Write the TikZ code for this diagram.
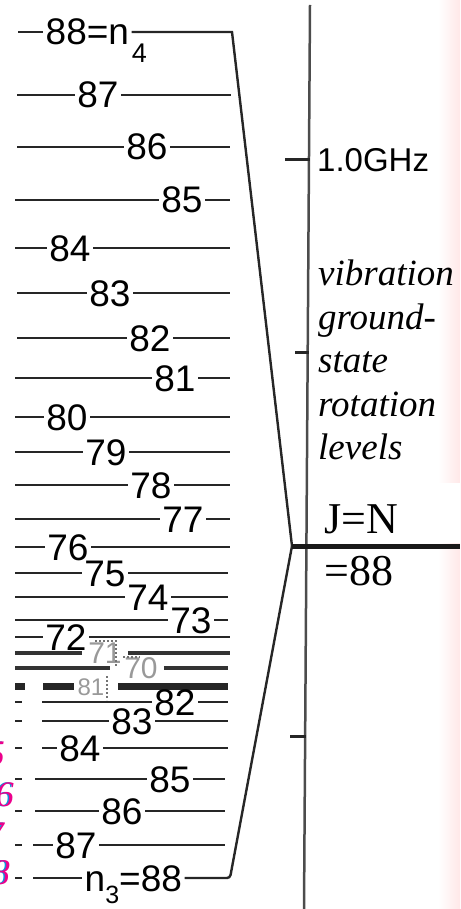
\documentclass[tikz,border=0pt]{standalone}
\usepackage{fontspec}
\setmainfont{Liberation Serif}
\setsansfont{Liberation Sans}
\usetikzlibrary{positioning,calc}

\begin{document}
\begin{tikzpicture}[
    x=1pt, y=-1pt,
    lvl/.style={line width=2.4pt, draw=black!85},
    dense/.style={line width=4.5pt, draw=black!80},
    block/.style={line width=7pt, draw=black!85},
    tick/.style={line width=3pt, draw=black!85},
    num/.style={font=\sffamily\fontsize{37}{40}\selectfont, inner xsep=2.5pt,
      inner ysep=0pt, text height=26pt, text depth=0pt},
    sub/.style={font=\sffamily\fontsize{27}{28}\selectfont, inner sep=0pt,
      text height=19pt, text depth=0pt},
    faint/.style={num, font=\sffamily\fontsize{30}{32}\selectfont, text=black!40,
      text height=21pt, inner xsep=6pt},
    remnant/.style={line width=1.5pt, draw=black!55, dash pattern=on 2pt off 2pt},
    scan/.style={font=\itshape\fontsize{36}{36}\selectfont, inner sep=0pt,
      anchor=east, text height=25pt, text depth=0pt},
    caption/.style={font=\itshape\fontsize{37}{43.5}\selectfont, align=left, inner sep=0pt}
  ]
  \useasboundingbox (0,0) rectangle (460,909);
  % scan tint at the right edge
  \shade[left color=white, right color=red!9] (438,0) rectangle (460,909);
  \fill[white] (312,483) rectangle (460,543);

  % frequency axis
  \coordinate (axtop) at (310,5);
  \coordinate (axbot) at (304,909);
  \draw[line width=2.5pt, draw=black!70] (axtop) -- (axbot);
  \draw[tick] (285,160) -- (310,160);
  \draw[tick] (295,352) -- (309,352);
  \draw[tick] (290,736) -- (306,736);
  \node[font=\sffamily\fontsize{33}{35}\selectfont, anchor=west, inner sep=0pt]
    (ghz) at (317,160) {1.0GHz};
  \node[caption, anchor=north west] (desc) at (318,260)
    {vibration\\ground-\\state\\rotation\\levels};
  \node[font=\fontsize{44}{46}\selectfont, anchor=base west, inner sep=0pt]
    (jn) at (324,533) {J=N};
  \node[font=\fontsize{44}{46}\selectfont, anchor=base west, inner sep=0pt]
    (eq) at (324,585) {=88};

  % upper ladder, n_4 = 88 down to 72
  \coordinate (topc) at (232,32);
  \coordinate (meet) at (292,546);
  \coordinate (edge) at (460,546);
  \node[num, anchor=west] (l88a) at (43,32) {88=n};
  \node[sub, anchor=north west, yshift=2pt] (s4) at (l88a.south east) {4};
  \draw[lvl] (18,32) -- (l88a.west);
  \draw[lvl] (l88a.east) -- (topc) -- (meet);
  \node[num] (l87) at (98,95) {87};
  \draw[lvl] (17,95) -- (l87.west); \draw[lvl] (l87.east) -- (231,95);
  \node[num] (l86) at (147,147) {86};
  \draw[lvl] (17,147) -- (l86.west); \draw[lvl] (l86.east) -- (230,147);
  \node[num] (l85) at (182,200) {85};
  \draw[lvl] (15,200) -- (l85.west); \draw[lvl] (l85.east) -- (230,200);
  \node[num] (l84) at (70,248) {84};
  \draw[lvl] (15,248) -- (l84.west); \draw[lvl] (l84.east) -- (230,248);
  \node[num] (l83) at (110,293) {83};
  \draw[lvl] (17,293) -- (l83.west); \draw[lvl] (l83.east) -- (230,293);
  \node[num] (l82) at (150,338) {82};
  \draw[lvl] (17,338) -- (l82.west); \draw[lvl] (l82.east) -- (230,338);
  \node[num] (l81) at (175,378) {81};
  \draw[lvl] (15,378) -- (l81.west); \draw[lvl] (l81.east) -- (230,378);
  \node[num] (l80) at (67,417) {80};
  \draw[lvl] (15,417) -- (l80.west); \draw[lvl] (l80.east) -- (230,417);
  \node[num] (l79) at (106,452) {79};
  \draw[lvl] (15,452) -- (l79.west); \draw[lvl] (l79.east) -- (230,452);
  \node[num] (l78) at (151,485) {78};
  \draw[lvl] (15,485) -- (l78.west); \draw[lvl] (l78.east) -- (230,485);
  \node[num] (l77) at (183,519) {77};
  \draw[lvl] (15,519) -- (l77.west); \draw[lvl] (l77.east) -- (230,519);
  \node[num] (l76) at (68,547) {76};
  \draw[lvl] (15,547) -- (l76.west); \draw[lvl] (l76.east) -- (230,547);
  \node[num] (l75) at (105,573) {75};
  \draw[lvl] (15,573) -- (l75.west); \draw[lvl] (l75.east) -- (228,573);
  \node[num] (l74) at (148,597) {74};
  \draw[lvl] (15,597) -- (l74.west); \draw[lvl] (l74.east) -- (228,597);
  \node[num] (l73) at (191,620) {73};
  \draw[lvl] (15,620) -- (l73.west); \draw[lvl] (l73.east) -- (228,620);
  \node[num] (l72) at (66,637) {72};
  \draw[lvl] (15,637) -- (l72.west); \draw[lvl] (l72.east) -- (230,637);

  % crowded middle, badly printed
  \node[faint] (l71) at (105,653) {71};
  \draw[dense] (15,653) -- (l71.west); \draw[dense] (l71.east) -- (230,653);
  \node[faint] (l70) at (141,668) {70};
  \draw[dense] (15,668) -- (110,668); \draw[dense] (l70.east) -- (228,668);
  \node[faint, font=\sffamily\fontsize{24}{26}\selectfont, text height=18pt,
    inner xsep=3pt] (l81b) at (91,686) {81};
  \draw[block] (15,686) -- (25,686) (43,686) -- (l81b.west);
  \draw[block] (118,686) -- (228,686);
  \draw[remnant] (95,641) -- (116,641) -- (116,667);
  \draw[remnant] (123,657) -- (140,657);
  \draw[remnant] (107,676) -- (107,700);

  % lower ladder, 82 down to n_3 = 88
  \draw[lvl] (15,702) -- (22,702) (15,721) -- (22,721) (15,748) -- (22,748)
    (15,779) -- (22,779) (15,811) -- (22,811) (15,845) -- (22,845)
    (15,878) -- (22,878);
  \node[num] (l82b) at (175,702) {82};
  \draw[lvl] (42,702) -- (l82b.west); \draw[lvl] (l82b.east) -- (228,702);
  \node[num] (l83b) at (132,721) {83};
  \draw[lvl] (42,721) -- (l83b.west); \draw[lvl] (l83b.east) -- (228,721);
  \node[num] (l84b) at (80,748) {84};
  \draw[lvl] (42,748) -- (l84b.west); \draw[lvl] (l84b.east) -- (228,748);
  \node[num] (l85b) at (170,779) {85};
  \draw[lvl] (35,779) -- (l85b.west); \draw[lvl] (l85b.east) -- (225,779);
  \node[num] (l86b) at (122,811) {86};
  \draw[lvl] (35,811) -- (l86b.west); \draw[lvl] (l86b.east) -- (225,811);
  \node[num] (l87b) at (76,845) {87};
  \draw[lvl] (33,845) -- (l87b.west); \draw[lvl] (l87b.east) -- (225,845);
  \coordinate (botc) at (230,878);
  \node[num, anchor=west] (l88b) at (82,878)
    {n\raisebox{-12pt}{\fontsize{25}{26}\selectfont 3}={}88};
  \draw[lvl] (33,878) -- (l88b.west);
  \draw[lvl, rounded corners=3pt] (l88b.east) -- (botc) -- (meet);

  % J = N = 88 crossing
  \draw[line width=5pt, draw=black!90] (meet) -- (edge);

  % cut-off figures at the left edge
  \foreach \d/\yy/\xx in {5/753/5, 6/794/14, 7/834/4, 8/872/10} {
    \node[scan, text=cyan!80!blue] at (\xx-1.5,\yy) {\d};
    \node[scan, text=magenta] at (\xx,\yy) {\d};
  }
\end{tikzpicture}
\end{document}
